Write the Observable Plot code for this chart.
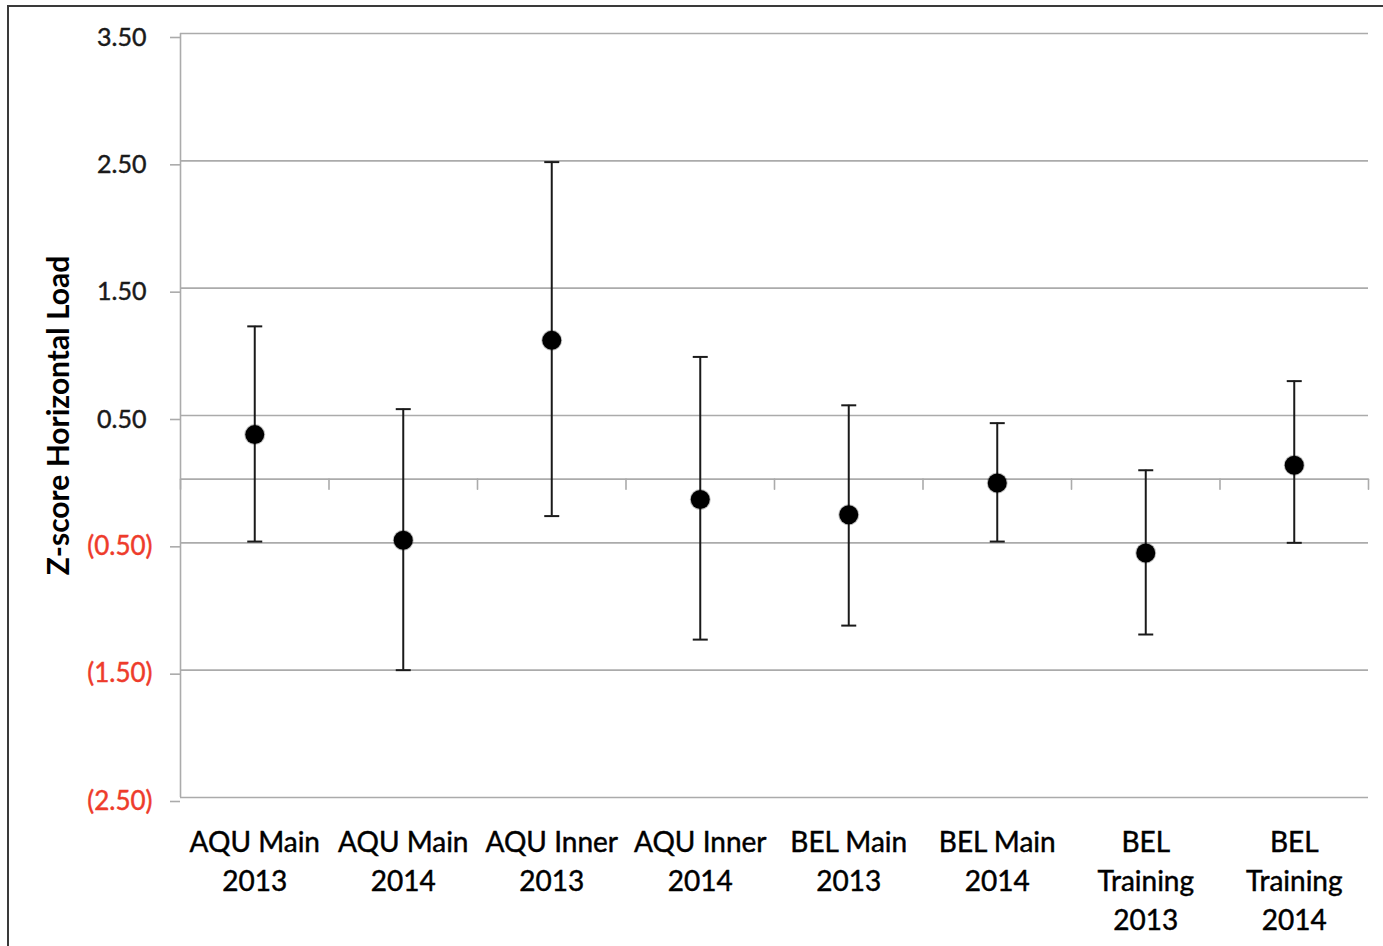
<!DOCTYPE html>
<html>
<head>
<meta charset="utf-8">
<script src="https://cdn.jsdelivr.net/npm/d3@7"></script>
<script src="https://cdn.jsdelivr.net/npm/@observablehq/plot@0.6"></script>
<style>
  html, body { margin: 0; padding: 0; background: #fff; }
  #wrap { position: relative; width: 1383px; height: 946px; overflow: hidden; }
  #frame { position: absolute; left: 7px; top: 5px; width: 1400px; height: 1000px; border: 2px solid #3a3a3a; pointer-events: none; box-sizing: border-box; }
  #wrap svg g[aria-label$="tick label"] text { stroke-width: 0.45px; paint-order: stroke; }
</style>
</head>
<body>
<div id="wrap"><div id="frame"></div></div>
<script>
const categories = [
  "AQU Main\n2013", "AQU Main\n2014", "AQU Inner\n2013", "AQU Inner\n2014",
  "BEL Main\n2013", "BEL Main\n2014", "BEL\nTraining\n2013", "BEL\nTraining\n2014"
];
const means = [0.35, -0.48, 1.09, -0.16, -0.28, -0.03, -0.58, 0.11];
const upper = [1.20, 0.55, 2.49, 0.96, 0.58, 0.44, 0.07, 0.77];
const lower = [-0.49, -1.50, -0.29, -1.26, -1.15, -0.49, -1.22, -0.50];
const yTicks = [3.5, 2.5, 1.5, 0.5, -0.5, -1.5, -2.5];
const yTicksPos = [3.5, 2.5, 1.5, 0.5];
const yTicksNeg = [-0.5, -1.5, -2.5];
const bandEdges = [-0.5, 0.5, 1.5, 2.5, 3.5, 4.5, 5.5, 6.5, 7.5];
const catIndex = [0, 1, 2, 3, 4, 5, 6, 7];

const data = catIndex.map(i => ({i, mean: means[i], hi: upper[i], lo: lower[i]}));

const fmt = d => d < 0 ? `(${(-d).toFixed(2)})` : d.toFixed(2);

const capSymbol = {
  draw(ctx, size) {
    const r = Math.sqrt(size / Math.PI);
    ctx.moveTo(-r, 0);
    ctx.lineTo(r, 0);
  }
};
const downTick = {
  draw(ctx, l) {
    ctx.moveTo(0, 0);
    ctx.lineTo(0, -l);
  }
};

const gridColor = "#ababab";

const chart = Plot.plot({
  width: 1383,
  height: 946,
  marginLeft: 180,
  marginRight: 15,
  marginTop: 33,
  marginBottom: 149,
  style: {fontFamily: "Lato, 'Open Sans', sans-serif", fontSize: "24px", background: "transparent", color: "#111"},
  x: {type: "linear", domain: [-0.5, 7.5]},
  y: {domain: [-2.5, 3.5]},
  marks: [
    Plot.gridY(yTicks, {stroke: gridColor, strokeOpacity: 1, strokeWidth: 1.6}),
    Plot.ruleY([0], {stroke: gridColor, strokeWidth: 1.6}),
    Plot.ruleX([bandEdges[0]], {stroke: gridColor, strokeWidth: 1.6}),
    Plot.vector(bandEdges, {x: d => d, y: 0, length: 10, rotate: 180, anchor: "start", shape: downTick, stroke: gridColor, strokeWidth: 1.6}),
    Plot.axisY(yTicksPos, {tickSize: 10, tickPadding: 24, tickFormat: fmt, stroke: gridColor, strokeWidth: 1.6, strokeOpacity: 1, fill: "#1a1a1a", fontSize: 25, dy: 4, label: null}),
    Plot.axisY(yTicksNeg, {tickSize: 10, tickPadding: 18, tickFormat: fmt, stroke: gridColor, strokeWidth: 1.6, strokeOpacity: 1, fill: "#ee3b2b", fontSize: 26, dy: 4, label: null}),
    Plot.axisY([], {label: "Z-score Horizontal Load", labelAnchor: "center", labelArrow: "none", labelOffset: 133, fontSize: 30, fontWeight: "bold", fill: "#000"}),
    Plot.axisX(catIndex, {tickSize: 0, tickPadding: 27, tickFormat: i => categories[i], lineHeight: 1.39, fontSize: 28, fill: "#000", label: null}),
    Plot.ruleX(data, {x: "i", y1: "lo", y2: "hi", stroke: "#1a1a1a", strokeWidth: 2}),
    Plot.dot(data, {x: "i", y: "hi", r: 7.5, symbol: capSymbol, stroke: "#1a1a1a", strokeWidth: 2, fill: "none"}),
    Plot.dot(data, {x: "i", y: "lo", r: 7.5, symbol: capSymbol, stroke: "#1a1a1a", strokeWidth: 2, fill: "none"}),
    Plot.dot(data, {x: "i", y: "mean", r: 9.5, fill: "#000", stroke: "#000", strokeOpacity: 0.25, strokeWidth: 2})
  ]
});
chart.style.position = "absolute";
chart.style.left = "0px";
chart.style.top = "0px";
// give tick labels a faint outline in their own colour to mimic the heavier reference text
chart.querySelectorAll('g[aria-label$="tick label"]').forEach(g => {
  g.setAttribute("stroke", g.getAttribute("fill") || "#000");
});
document.getElementById("wrap").prepend(chart);
</script>
</body>
</html>
